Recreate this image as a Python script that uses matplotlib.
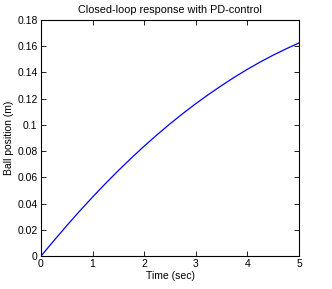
import matplotlib
matplotlib.use("Agg")
import matplotlib.pyplot as plt

time_s = [0, 0.25, 0.5, 0.75, 1.0, 1.25, 1.5, 1.75, 2.0, 2.25, 2.5,
          2.75, 3.0, 3.25, 3.5, 3.75, 4.0, 4.25, 4.5, 4.75, 5.0]
position_m = [0, 0.0117, 0.0232, 0.0343, 0.0450, 0.0553, 0.0652, 0.0747,
              0.0838, 0.0925, 0.1008, 0.1087, 0.1162, 0.1233, 0.1300,
              0.1364, 0.1424, 0.1480, 0.1532, 0.1580, 0.1625]
xticks = [0, 1, 2, 3, 4, 5]
yticks = [0, 0.02, 0.04, 0.06, 0.08, 0.1, 0.12, 0.14, 0.16, 0.18]
ytick_labels = ["0", "0.02", "0.04", "0.06", "0.08", "0.1", "0.12", "0.14", "0.16", "0.18"]

plt.rcParams['font.family'] = ['Liberation Sans', 'DejaVu Sans']
plt.rcParams['font.size'] = 7.5

fig = plt.figure(figsize=(3.32, 2.89), dpi=100)
ax = fig.add_axes([41/332, 1 - 256/289, 258/332, 236/289])
ax.plot(time_s, position_m, color='#0000ff', linewidth=0.9)
ax.set_xlim(0, 5)
ax.set_ylim(0, 0.18)
ax.set_xticks(xticks)
ax.set_xticklabels([str(v) for v in xticks])
ax.set_yticks(yticks)
ax.set_yticklabels(ytick_labels)
ax.tick_params(direction='in', top=True, right=True, length=3.5, width=0.6, pad=2.5, colors='black')
for s in ax.spines.values():
    s.set_linewidth(0.8)
ax.set_title("Closed-loop response with PD-control", fontsize=7.8, pad=5)
ax.set_xlabel("Time (sec)", labelpad=1)
ax.set_ylabel("Ball position (m)", labelpad=2)
fig.savefig("out.png", dpi=100)
